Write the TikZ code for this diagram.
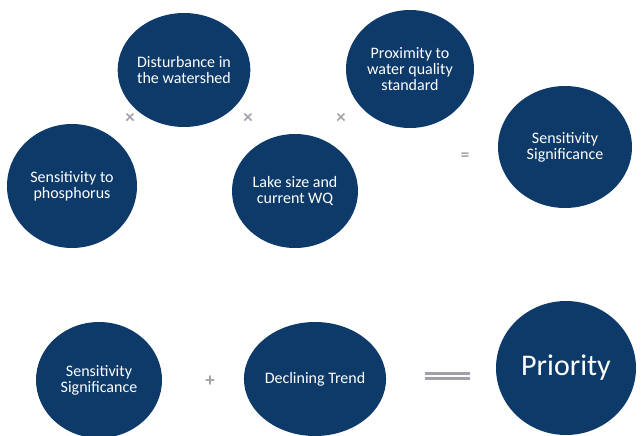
\documentclass[tikz,border=0pt]{standalone}
\usepackage{fontspec}
\setmainfont{Carlito}
\usepackage{xcolor}
\usepackage{tikz}
\usetikzlibrary{shapes.geometric}
\definecolor{navy}{RGB}{14,58,106}
\definecolor{opgrey}{RGB}{160,160,168}

\tikzset{
  circ/.style={ellipse, fill=navy, draw=none, inner sep=0pt, align=center,
    text=white, font=\fontsize{16}{16}\selectfont},
  op/.style={text=opgrey, inner sep=0pt, font=\bfseries\fontsize{19}{19}\selectfont}
}

\begin{document}
\begin{tikzpicture}[x=1pt, y=-1pt]
  \useasboundingbox (0,0) rectangle (642,436);
  % top row
  \node[circ, minimum width=130pt, minimum height=124pt] (phos) at (72,186) {Sensitivity to\\phosphorus}; %
  \node[circ, minimum width=130pt, minimum height=114pt] (dist) at (184,70) {Disturbance in\\the watershed}; %
  \node[circ, minimum width=126pt, minimum height=114pt] (lake) at (295,191) {Lake size and\\current WQ}; %
  \node[circ, minimum width=128pt, minimum height=118pt] (prox) at (410,69) {Proximity to\\water quality\\standard}; %
  \node[circ, minimum width=134pt, minimum height=122pt] (sig) at (565,147) {Sensitivity\\Significance}; %
  \node[op] (t1) at (130,118) {×};
  \node[op] (t2) at (248,118) {×};
  \node[op] (t3) at (341,118) {×};
  \node[op, font=\bfseries\fontsize{17}{17}\selectfont] (eq1) at (465,157) {=};
  % bottom row
  \node[circ, minimum width=126pt, minimum height=116pt] (sig2) at (99,380) {Sensitivity\\Significance}; %
  \node[circ, minimum width=132pt, minimum height=114pt] (trend) at (315,379) {Declining Trend}; %
  \node[circ, minimum width=140pt, minimum height=134pt, font=\fontsize{30}{30}\selectfont] (prio) at (566,368) {Priority}; %
  \node[op] (plus) at (210,381) {+};
  \node[op] (eq2) at (447,376) {\vbox{\hrule width 45pt height 3.5pt \vskip 1.5pt \hrule width 45pt height 3.5pt}};
\end{tikzpicture}
\end{document}
